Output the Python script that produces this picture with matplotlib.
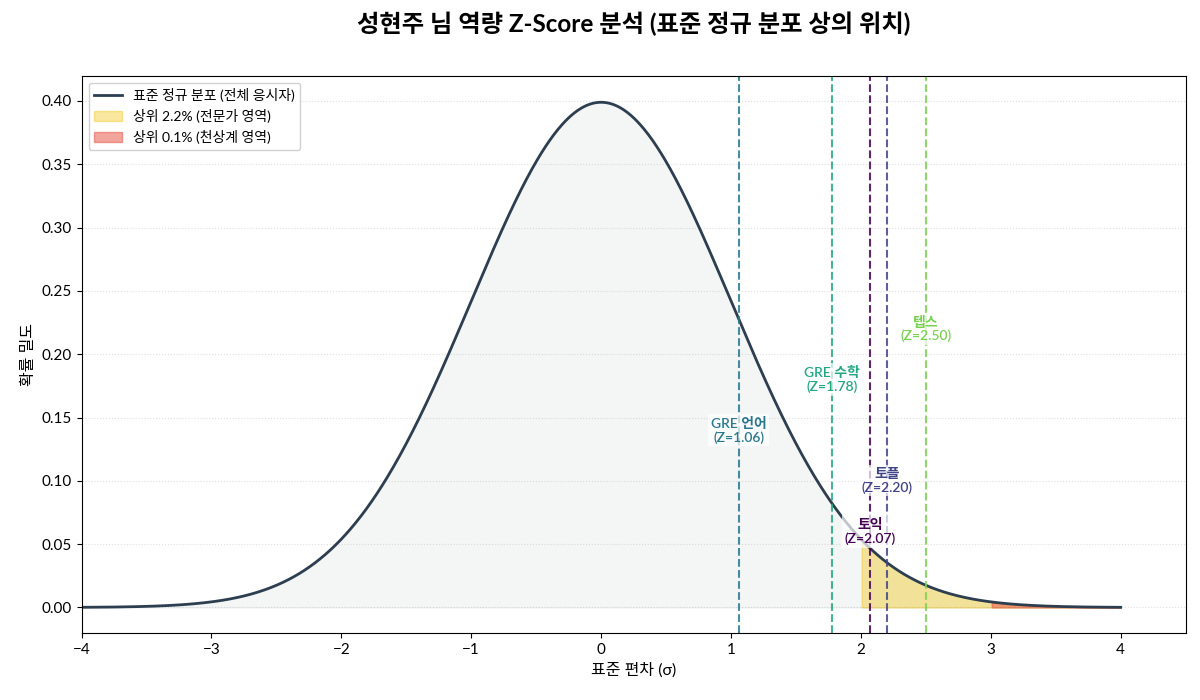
import numpy as np
import matplotlib
matplotlib.use("Agg")
import matplotlib.pyplot as plt

plt.rcParams['font.family'] = ['Lato', 'Noto Sans CJK KR', 'DejaVu Sans']
plt.rcParams['axes.unicode_minus'] = True

# Data
test_names = ['토익', '토플', 'GRE 언어', 'GRE 수학', '텝스']
z_scores = [2.07, 2.20, 1.06, 1.78, 2.50]
expert_threshold = 2.0
genius_threshold = 3.0
curve_label = '표준 정규 분포 (전체 응시자)'
expert_label = '상위 2.2% (전문가 영역)'
genius_label = '상위 0.1% (천상계 영역)'

x = np.linspace(-4, 4, 1000)
y = np.exp(-x**2 / 2) / np.sqrt(2 * np.pi)

fig, ax = plt.subplots(figsize=(12, 7), dpi=100)
fig.subplots_adjust(left=0.068, right=0.988, top=0.892, bottom=0.096)

ax.plot(x, y, color='#2c3e50', lw=2, label=curve_label, zorder=2)
ax.fill_between(x, y, color='#95a5a6', alpha=0.1, zorder=1)
ax.fill_between(x, y, where=(x >= expert_threshold), color='#f1c40f', alpha=0.4,
                label=expert_label, zorder=1)
ax.fill_between(x, y, where=(x >= genius_threshold), color='#e74c3c', alpha=0.5,
                label=genius_label, zorder=1)

colors = plt.cm.viridis(np.linspace(0, 0.8, len(test_names)))
for i, (name, z) in enumerate(zip(test_names, z_scores)):
    ax.axvline(z, color=colors[i], ls='--', lw=1.5, alpha=0.85, zorder=2)
    ax.text(z, 0.06 + 0.04 * i, f'{name}\n(Z={z:.2f})', color=colors[i],
            ha='center', va='center', fontsize=10, fontweight='semibold',
            linespacing=1.1,
            bbox=dict(facecolor='white', edgecolor='none', alpha=0.7, pad=2),
            zorder=3)

ax.set_xlim(-4, 4.5)
ax.set_ylim(-0.02, 0.42)
ax.set_xticks(np.arange(-4, 5, 1))
ax.set_yticks(np.arange(0, 0.41, 0.05))
ax.yaxis.set_major_formatter(matplotlib.ticker.FormatStrFormatter('%.2f'))
ax.tick_params(labelsize=11)
ax.grid(axis='y', ls=':', alpha=0.4)

ax.set_title('성현주 님 역량 Z-Score 분석 (표준 정규 분포 상의 위치)',
             fontsize=17.5, fontweight='bold', pad=31)
ax.set_xlabel('표준 편차 (σ)', fontsize=11.5)
ax.set_ylabel('확률 밀도', fontsize=11.5)
ax.legend(loc='upper left', fontsize=10, framealpha=0.9)

fig.savefig('out.png', dpi=100)
